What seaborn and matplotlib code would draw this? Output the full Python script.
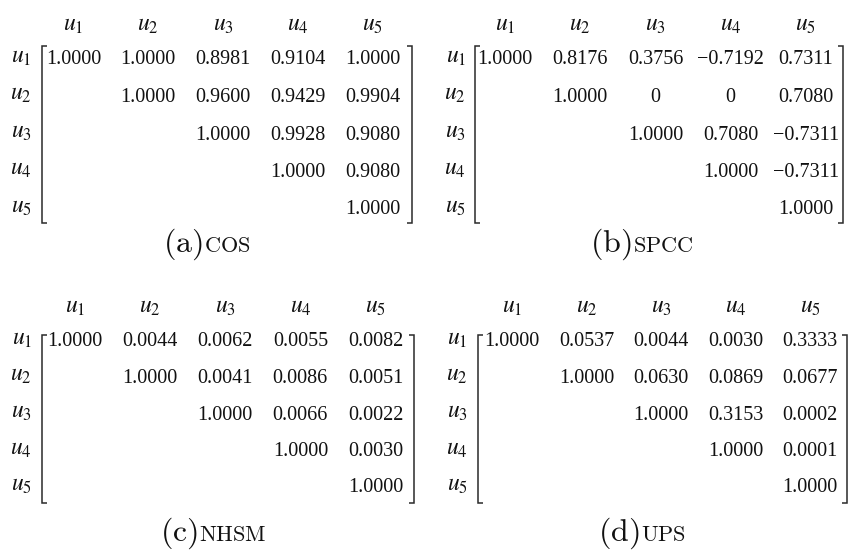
import numpy as np
import pandas as pd
import seaborn as sns
import matplotlib.pyplot as plt
from matplotlib.colors import ListedColormap
from matplotlib.lines import Line2D

# ---------------- data ----------------
users = ["u1", "u2", "u3", "u4", "u5"]
user_labels = [r"$u_1$", r"$u_2$", r"$u_3$", r"$u_4$", r"$u_5$"]
nan = np.nan

cos_vals = [
    [1.0000, 1.0000, 0.8981, 0.9104, 1.0000],
    [nan, 1.0000, 0.9600, 0.9429, 0.9904],
    [nan, nan, 1.0000, 0.9928, 0.9080],
    [nan, nan, nan, 1.0000, 0.9080],
    [nan, nan, nan, nan, 1.0000],
]
spcc_vals = [
    [1.0000, 0.8176, 0.3756, -0.7192, 0.7311],
    [nan, 1.0000, 0.0, 0.0, 0.7080],
    [nan, nan, 1.0000, 0.7080, -0.7311],
    [nan, nan, nan, 1.0000, -0.7311],
    [nan, nan, nan, nan, 1.0000],
]
nhsm_vals = [
    [1.0000, 0.0044, 0.0062, 0.0055, 0.0082],
    [nan, 1.0000, 0.0041, 0.0086, 0.0051],
    [nan, nan, 1.0000, 0.0066, 0.0022],
    [nan, nan, nan, 1.0000, 0.0030],
    [nan, nan, nan, nan, 1.0000],
]
ups_vals = [
    [1.0000, 0.0537, 0.0044, 0.0030, 0.3333],
    [nan, 1.0000, 0.0630, 0.0869, 0.0677],
    [nan, nan, 1.0000, 0.3153, 0.0002],
    [nan, nan, nan, 1.0000, 0.0001],
    [nan, nan, nan, nan, 1.0000],
]
panel_letters = ["a", "b", "c", "d"]
panel_names = ["COS", "SPCC", "NHSM", "UPS"]

# ---------------- style ----------------
sns.set_style("white")
plt.rcParams["font.family"] = ["Liberation Serif", "DejaVu Serif"]
plt.rcParams["mathtext.fontset"] = "stix"

W, H = 851, 551
fig = plt.figure(figsize=(W / 100, H / 100), dpi=100)
fig.patch.set_facecolor("white")

# layout in pixels: cell grid extents, bracket positions, caption anchor
layout = [
    dict(x0=36.0, x1=410.0, y0=38.75, y1=226.25, bl=42, br=412, bt=46, bb=223, ypad=3, cap_x=203, cap_y=252),
    dict(x0=467.4, x1=843.6, y0=38.75, y1=226.25, bl=475, br=843, bt=46, bb=223, ypad=1, cap_x=632, cap_y=252),
    dict(x0=37.5, x1=413.0, y0=321.25, y1=503.75, bl=42, br=414, bt=335, bb=503, ypad=4, cap_x=198, cap_y=541),
    dict(x0=474.5, x1=847.5, y0=321.25, y1=503.75, bl=478, br=847, bt=335, bb=503, ypad=5, cap_x=640, cap_y=541),
]

all_vals = [cos_vals, spcc_vals, nhsm_vals, ups_vals]


def fmt(v):
    if np.isnan(v):
        return ""
    if v == 0:
        return "0"
    s = f"{v:.4f}"
    return s.replace("-", "\u2212")


white = ListedColormap(["white"])
bcol = "#2a2a2a"
tcol = "#111111"

for vals, lay, letter, name in zip(all_vals, layout, panel_letters, panel_names):
    arr = np.array(vals, dtype=float)
    df = pd.DataFrame(arr, index=users, columns=users)
    labels = np.vectorize(fmt)(arr)
    mask = np.isnan(arr)
    ax = fig.add_axes([lay["x0"] / W, 1 - lay["y1"] / H,
                       (lay["x1"] - lay["x0"]) / W, (lay["y1"] - lay["y0"]) / H])
    sns.heatmap(df, mask=mask, cmap=white, cbar=False, annot=labels, fmt="",
                annot_kws=dict(fontsize=14.5, color=tcol, family="Liberation Serif",
                               va="center_baseline"),
                linewidths=0, xticklabels=user_labels, yticklabels=user_labels, ax=ax)
    ax.set_facecolor("white")
    ax.xaxis.tick_top()
    ax.tick_params(axis="x", length=0, pad=2)
    ax.tick_params(axis="y", length=0, pad=lay["ypad"])
    for t in ax.get_yticklabels():
        t.set_rotation(0)
        t.set_fontsize(17)
        t.set_color(tcol)
    for t in ax.get_xticklabels():
        t.set_rotation(0)
        t.set_fontsize(17)
        t.set_color(tcol)
    ax.set_xlabel("")
    ax.set_ylabel("")
    for s in ax.spines.values():
        s.set_visible(False)

    # brackets
    tick = 5
    lx = [lay["bl"] + tick, lay["bl"], lay["bl"], lay["bl"] + tick]
    rx = [lay["br"] - tick, lay["br"], lay["br"], lay["br"] - tick]
    yy = [lay["bt"], lay["bt"], lay["bb"], lay["bb"]]
    for xs in (lx, rx):
        fig.add_artist(Line2D([x / W for x in xs], [1 - y / H for y in yy],
                              color=bcol, lw=1.1, solid_capstyle="butt",
                              solid_joinstyle="miter"))

    # caption
    fig.text(lay["cap_x"] / W, 1 - lay["cap_y"] / H, r"$\mathrm{(" + letter + r")}$",
             fontsize=23, ha="right", va="baseline", math_fontfamily="cm", color=tcol)
    fig.text(lay["cap_x"] / W + 1 / W, 1 - lay["cap_y"] / H, r"$\mathrm{" + name + r"}$",
             fontsize=16, ha="left", va="baseline", math_fontfamily="cm", color=tcol)

fig.savefig("out.png", dpi=100, facecolor="white")
